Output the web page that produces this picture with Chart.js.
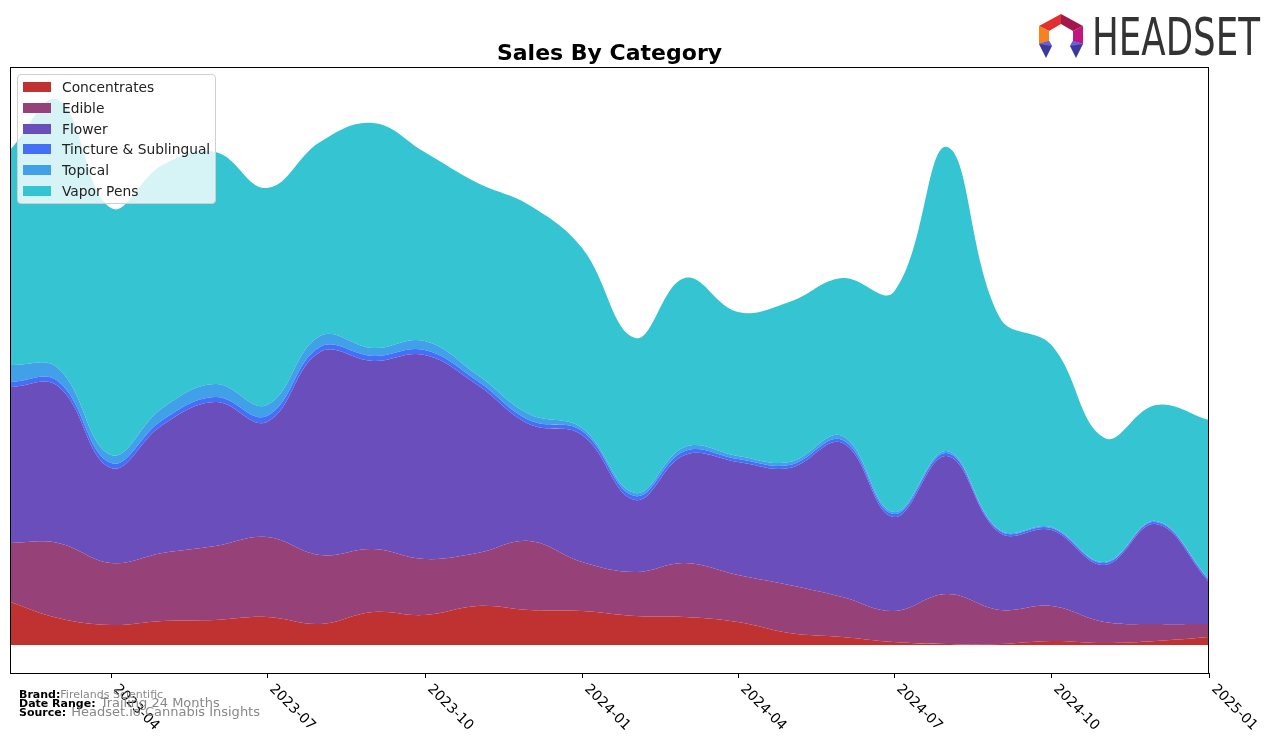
<!DOCTYPE html>
<html>
<head>
<meta charset="utf-8">
<script src="https://cdn.jsdelivr.net/npm/chart.js@4.4.1/dist/chart.umd.min.js"></script>
<style>
  body { margin: 0; background: #fff; font-family: "DejaVu Sans", sans-serif; }
  #wrap { position: relative; width: 1276px; height: 743px; overflow: hidden; }
  #chart { position: absolute; left: 0; top: 0; }
  #title { position: absolute; left: 10px; width: 1199px; top: 40px; text-align: center;
           font-weight: bold; font-size: 22px; line-height: 26px; color: #000; }
  #legend { position: absolute; left: 17px; top: 74px; width: 197px; height: 128px;
            background: rgba(255,255,255,0.8); border: 1px solid #cfcfcf; border-radius: 4px; }
  .row { position: absolute; left: 0; height: 20px; font-size: 13.8px; line-height: 20px; color: #222; white-space: nowrap; }
  .patch { position: absolute; left: 5px; top: 5px; width: 28px; height: 10px; }
  .lbl { position: absolute; left: 44px; top: 0; }
  .foot { position: absolute; left: 19px; white-space: nowrap; line-height: 12px; height: 12px; }
  .foot b { font-size: 11px; color: #000; }
  .foot span { color: #888; }
</style>
</head>
<body>
<div id="wrap">
  <canvas id="chart" width="1276" height="743"></canvas>
  <div id="title">Sales By Category</div>
  <div id="legend"></div>
  <div class="foot" style="top:687px"><b>Brand:</b><span style="font-size:11px">Firelands Scientific</span></div>
  <div class="foot" style="top:696px"><b>Date Range:</b> <span style="font-size:13px">Trailing 24 Months</span></div>
  <div class="foot" style="top:705px"><b>Source:</b> <span style="font-size:13px">Headset.io Cannabis Insights</span></div>
  <svg style="position:absolute;left:1030px;top:0" width="246" height="70" viewBox="1030 0 246 70">
    <g transform="translate(1036,12)">
      <polygon points="25,2 25,12 13,19 3,14" fill="#e0302f"/>
      <polygon points="25,2 47,14 37,19 25,12" fill="#a3184a"/>
      <polygon points="47,14 47,32 37,29 37,19" fill="#c2157f"/>
      <polygon points="3,14 13,19 13,29 3,32" fill="#f5821f"/>
      <polygon points="3,32 13,29 16,34 10,46" fill="#3b3a9c"/>
      <polygon points="47,32 37,29 34,34 40,46" fill="#3b3a9c"/>
      <polygon points="3,32 13,29 16,34" fill="#6b5fd9"/>
      <polygon points="47,32 37,29 34,34" fill="#6b5fd9"/>
    </g>
    <text x="1092" y="55" font-size="51" fill="#333" textLength="168" lengthAdjust="spacingAndGlyphs"
          font-family="Liberation Sans Narrow, DejaVu Sans Condensed, sans-serif">HEADSET</text>
  </svg>
</div>
<script>
// monthly sales by category (thousands)
const months = ["2023-02","2023-03","2023-04","2023-05","2023-06","2023-07","2023-08","2023-09",
  "2023-10","2023-11","2023-12","2024-01","2024-02","2024-03","2024-04","2024-05","2024-06",
  "2024-07","2024-08","2024-09","2024-10","2024-11","2024-12","2025-01"];
const tickLabels = ["2023-04","2023-07","2023-10","2024-01","2024-04","2024-07","2024-10","2025-01"];

const concentrates = [43,27,20,24,25,28,21,33,30,39,35,34,29,28,23,12,8,3,1,1,4,2,4,8];
const edible = [59,75,62,68,74,80,69,63,56,53,69,49,44,54,47,48,40,31,50,34,35,21,17,13];
const flower = [156,157,95,128,144,115,203,188,204,168,117,127,72,108,113,117,154,94,138,77,76,57,100,42];
const tincture = [5,5,5,5,5,6,5,5,5,4,4,4,4,4,3,3,3,3,3,2,2,2,2,2];
const topical = [17,13,8,12,13,11,11,8,9,6,6,3,3,4,3,3,4,2,2,1,1,1,1,1];
const vaporPens = [215,268,247,243,232,217,194,225,189,192,209,180,155,169,144,160,158,220,304,212,182,124,116,159];

const categories = ["Concentrates","Edible","Flower","Tincture & Sublingual","Topical","Vapor Pens"];
const seriesList = [concentrates, edible, flower, tincture, topical, vaporPens];
const colors = ["#c03232","#964278","#6a4ebc","#4470f8","#40a0e8","#34c4d2"];

// days since first month, so months sit at their real spacing
function dayOf(m) {
  const p = m.split("-");
  return (Date.UTC(+p[0], +p[1] - 1, 1) - Date.UTC(2023, 1, 1)) / 86400000;
}

const datasets = seriesList.map((vals, i) => ({
  label: categories[i],
  data: vals.map((v, j) => ({ x: dayOf(months[j]), y: v })),
  backgroundColor: colors[i],
  borderWidth: 0,
  pointRadius: 0,
  tension: 0.4,
  fill: i === 0 ? "origin" : "-1"
}));

const frame = {
  id: "frame",
  afterDraw(chart) {
    const ctx = chart.ctx;
    const a = chart.chartArea;
    const x = chart.scales.x;
    ctx.save();
    ctx.strokeStyle = "#000";
    ctx.lineWidth = 1;
    ctx.strokeRect(a.left + 0.5, a.top + 0.5, a.right - a.left - 1, a.bottom - a.top);
    ctx.font = '14px "DejaVu Sans"';
    ctx.fillStyle = "#000";
    tickLabels.forEach((t) => {
      const px = Math.round(x.getPixelForValue(dayOf(t))) + 0.5;
      ctx.beginPath();
      ctx.moveTo(px, a.bottom);
      ctx.lineTo(px, a.bottom + 5);
      ctx.stroke();
      ctx.save();
      ctx.translate(px + 9, a.bottom + 9);
      ctx.rotate(Math.PI / 4);
      ctx.textAlign = "left";
      ctx.textBaseline = "top";
      ctx.fillText(t, 0, 0);
      ctx.restore();
    });
    ctx.restore();
  }
};

new Chart(document.querySelector("#chart"), {
  type: "line",
  data: { datasets: datasets },
  options: {
    responsive: false,
    animation: false,
    devicePixelRatio: 1,
    layout: { padding: { left: 10, right: 67, top: 67, bottom: 70 } },
    plugins: { legend: { display: false }, title: { display: false }, tooltip: { enabled: false } },
    scales: {
      x: { type: "linear", display: false, min: 0, max: dayOf(months[months.length - 1]) },
      y: { display: false, stacked: true, min: -28, max: 578 }
    }
  },
  plugins: [frame]
});

// legend box
const legend = document.querySelector("#legend");
categories.forEach((c, i) => {
  const row = document.createElement("div");
  row.className = "row";
  row.style.top = (2 + i * 20.8) + "px";
  row.innerHTML = `<div class="patch" style="background:${colors[i]}"></div><div class="lbl">${c}</div>`;
  legend.appendChild(row);
});
</script>
</body>
</html>
